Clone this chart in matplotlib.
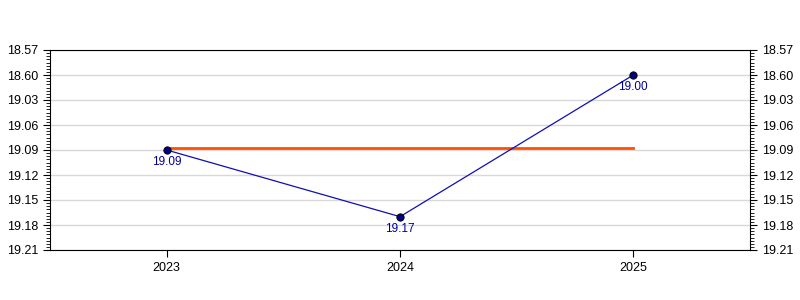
import matplotlib
matplotlib.use("Agg")
import matplotlib.pyplot as plt
from matplotlib.ticker import AutoMinorLocator

plt.rcParams['font.family'] = ['Liberation Sans', 'DejaVu Sans']

# times in seconds (mm:ss shown as mm.ss)
years = [2023, 2024, 2025]
times = [1149, 1157, 1140]
point_labels = ['19.09', '19.17', '19.00']
avg_time = 1148.7

tick_vals = [1137, 1140, 1143, 1146, 1149, 1152, 1155, 1158, 1161]
tick_labels = ['18.57', '18.60', '19.03', '19.06', '19.09', '19.12', '19.15', '19.18', '19.21']

fig = plt.figure(figsize=(8, 3), dpi=100)
ax = fig.add_axes([50 / 800, 50 / 300, 700 / 800, 200 / 300])

ax.plot([years[0], years[-1]], [avg_time, avg_time], color='#ff5000', lw=2, zorder=2)
ax.plot(years, times, color='#1010b0', lw=0.9, zorder=3)
ax.scatter(years, times, s=28, color='#000080', edgecolors='black', linewidths=0.6, zorder=4)

for x, y, lab in zip(years, times, point_labels):
    ax.annotate(lab, (x, y), xytext=(0, -4.5), textcoords='offset points',
                ha='center', va='top', fontsize=8.5, color='#000099')

ax.set_xlim(2022.5, 2025.5)
ax.set_ylim(tick_vals[-1], tick_vals[0])
ax.set_xticks(years)
ax.set_xticklabels([str(y) for y in years], fontsize=9)
ax.set_yticks(tick_vals)
ax.set_yticklabels(tick_labels, fontsize=9)
ax.yaxis.set_minor_locator(AutoMinorLocator(8))
ax.tick_params(axis='y', which='both', left=True, right=True, labelleft=True, labelright=True)
ax.tick_params(axis='y', which='major', length=5)
ax.tick_params(axis='y', which='minor', length=3)
ax.tick_params(axis='x', length=5)
ax.grid(axis='y', color='#d8d8d8', lw=1)
ax.set_axisbelow(True)

fig.savefig('out.png', dpi=100)
